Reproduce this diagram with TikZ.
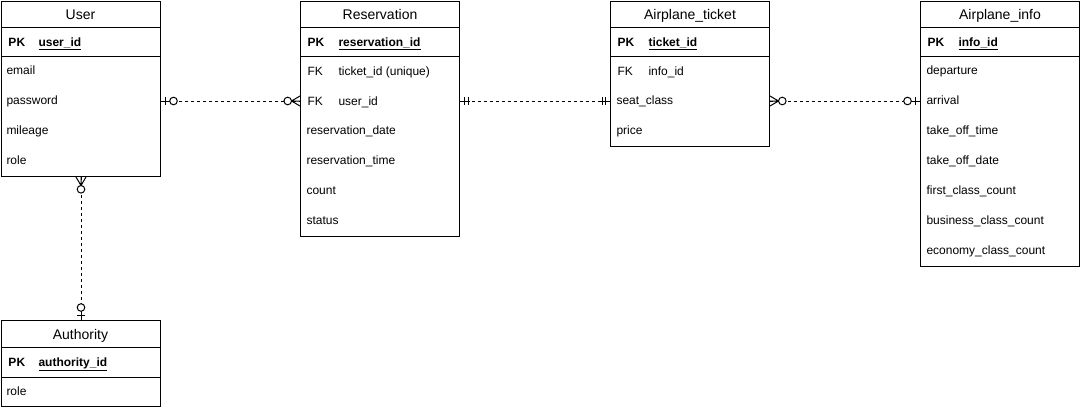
\documentclass[tikz,border=0pt]{standalone}
\usepackage{fontspec}
\setmainfont{Liberation Sans}

\tikzset{
  % marks at the end of a relation, drawn from the table edge outwards (+x)
  zeroone/.pic={
    \draw (0,0) -- (9,0);
    \draw (4.5,-4) -- (4.5,4);
    \draw[fill=white] (12.5,0) circle (3.8pt);
  },
  zeromany/.pic={
    \draw (0,-5) -- (8.5,0) -- (0,5) (0,0) -- (8.5,0);
    \draw[fill=white] (12.3,0) circle (3.8pt);
  },
  oneone/.pic={
    \draw (0,0) -- (10,0);
    \draw (4.5,-4) -- (4.5,4) (8,-4) -- (8,4);
  },
}

\begin{document}
\begin{tikzpicture}[x=1pt, y=-1pt, line width=1pt,
    table/.style={draw, fill=white, anchor=north west, inner sep=0pt, minimum width=159pt},
    title/.style={font=\fontsize{14}{16}\selectfont, text height=10pt, text depth=0pt, inner sep=0pt},
    fld/.style={anchor=west, font=\fontsize{12}{14}\selectfont, text height=8.6pt, text depth=0pt, inner sep=0pt},
    key/.style={fld, font=\fontsize{12}{14}\selectfont\bfseries},
    relline/.style={draw, dash pattern=on 3pt off 3pt},
  ]
  \useasboundingbox (0,0) rectangle (1081,410);

  % User
  \node[table, minimum height=175pt] at (1,1) (user) {};
  \draw (user.west |- 0,27) -- (user.east |- 0,27);
  \draw (user.west |- 0,56) -- (user.east |- 0,56);
  \node[title] at (80.5,14) (user-title) {User};
  \node[key] at (8,42) (user-pk) {PK};
  \node[key] at (38,42) (user-id) {\underline{user\_id}};
  \node[fld] at (6,70) (user-email) {email};
  \node[fld] at (6,100) (user-pass) {password};
  \node[fld] at (6,130) (user-mile) {mileage};
  \node[fld] at (6,160) (user-role) {role};

  % Reservation
  \node[table, minimum height=235pt] at (300,1) (res) {};
  \draw (res.west |- 0,27) -- (res.east |- 0,27);
  \draw (res.west |- 0,56) -- (res.east |- 0,56);
  \node[title] at (380,14) (res-title) {Reservation};
  \node[key] at (307,42) (res-pk) {PK};
  \node[key] at (338,42) (res-id) {\underline{reservation\_id}};
  \node[fld] at (307,71) (res-fk1) {FK};
  \node[fld] at (338,71) (res-tid) {ticket\_id (unique)};
  \node[fld] at (307,101) (res-fk2) {FK};
  \node[fld] at (338,101) (res-uid) {user\_id};
  \node[fld] at (306,130) (res-date) {reservation\_date};
  \node[fld] at (306,160) (res-time) {reservation\_time};
  \node[fld] at (306,190) (res-count) {count};
  \node[fld] at (306,220) (res-status) {status};

  % Airplane_ticket
  \node[table, minimum height=145pt] at (610,1) (ticket) {};
  \draw (ticket.west |- 0,27) -- (ticket.east |- 0,27);
  \draw (ticket.west |- 0,56) -- (ticket.east |- 0,56);
  \node[title] at (690,14) (ticket-title) {Airplane\_ticket};
  \node[key] at (617,42) (ticket-pk) {PK};
  \node[key] at (648,42) (ticket-id) {\underline{ticket\_id}};
  \node[fld] at (617,71) (ticket-fk) {FK};
  \node[fld] at (648,71) (ticket-iid) {info\_id};
  \node[fld] at (616,100) (ticket-seat) {seat\_class};
  \node[fld] at (616,130) (ticket-price) {price};

  % Airplane_info
  \node[table, minimum height=265pt] at (920,1) (info) {};
  \draw (info.west |- 0,27) -- (info.east |- 0,27);
  \draw (info.west |- 0,56) -- (info.east |- 0,56);
  \node[title] at (1000,14) (info-title) {Airplane\_info};
  \node[key] at (927,42) (info-pk) {PK};
  \node[key] at (958,42) (info-id) {\underline{info\_id}};
  \node[fld] at (926,70) (info-dep) {departure};
  \node[fld] at (926,100) (info-arr) {arrival};
  \node[fld] at (926,130) (info-time) {take\_off\_time};
  \node[fld] at (926,160) (info-date) {take\_off\_date};
  \node[fld] at (926,190) (info-first) {first\_class\_count};
  \node[fld] at (926,220) (info-bus) {business\_class\_count};
  \node[fld] at (926,250) (info-eco) {economy\_class\_count};

  % Authority
  \node[table, minimum height=86pt] at (1,320) (auth) {};
  \draw (auth.west |- 0,347) -- (auth.east |- 0,347);
  \draw (auth.west |- 0,377) -- (auth.east |- 0,377);
  \node[title] at (80.5,334) (auth-title) {Authority};
  \node[key] at (8,362) (auth-pk) {PK};
  \node[key] at (38,362) (auth-id) {\underline{authority\_id}};
  \node[fld] at (6,391) (auth-role) {role};

  % Relations
  \draw[relline] (user.east |- res-uid) -- (res.west |- res-uid);
  \draw[relline] (res.east |- res-uid) -- (ticket.west |- res-uid);
  \draw[relline] (ticket.east |- res-uid) -- (info.west |- res-uid);
  \draw[relline] (user.south) -- (auth.north);

  \pic at (user.east |- res-uid) {zeroone};
  \pic[rotate=180] at (res.west |- res-uid) {zeromany};
  \pic at (res.east |- res-uid) {oneone};
  \pic[rotate=180] at (ticket.west |- res-uid) {oneone};
  \pic at (ticket.east |- res-uid) {zeromany};
  \pic[rotate=180] at (info.west |- res-uid) {zeroone};
  \pic[rotate=-90] at (user.south) {zeromany};
  \pic[rotate=90] at (auth.north) {zeroone};
\end{tikzpicture}
\end{document}
